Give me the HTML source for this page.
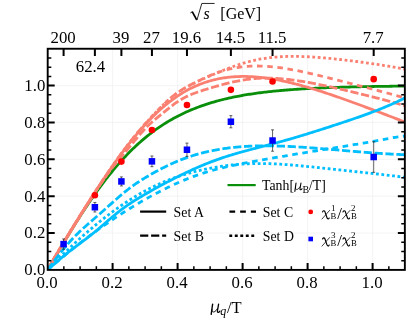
<!DOCTYPE html>
<html><head><meta charset="utf-8"><title>plot</title>
<style>
html,body{margin:0;padding:0;background:#fff;}
svg{display:block;font-family:"Liberation Serif",serif;will-change:transform;}
text{fill:#000;}
</style></head><body>
<svg width="407" height="318" viewBox="0 0 407 318">
<rect width="407" height="318" fill="#fff"/>
<defs><clipPath id="cp"><rect x="47.70" y="48.75" width="357.15" height="221.15"/></clipPath></defs>

<g stroke="#efefef" stroke-width="0.7">
<line x1="112.60" y1="48.75" x2="112.60" y2="269.90"/>
<line x1="47.70" y1="233.04" x2="404.85" y2="233.04"/>
<line x1="177.60" y1="48.75" x2="177.60" y2="269.90"/>
<line x1="47.70" y1="196.18" x2="404.85" y2="196.18"/>
<line x1="242.60" y1="48.75" x2="242.60" y2="269.90"/>
<line x1="47.70" y1="159.32" x2="404.85" y2="159.32"/>
<line x1="307.60" y1="48.75" x2="307.60" y2="269.90"/>
<line x1="47.70" y1="122.46" x2="404.85" y2="122.46"/>
<line x1="372.60" y1="48.75" x2="372.60" y2="269.90"/>
<line x1="47.70" y1="85.60" x2="404.85" y2="85.60"/>
</g>
<g clip-path="url(#cp)" fill="none" stroke-width="2.8">
<path d="M47.60,269.90 L49.10,267.36 L50.59,264.81 L52.09,262.27 L53.58,259.73 L55.08,257.20 L56.57,254.67 L58.07,252.14 L59.57,249.62 L61.06,247.11 L62.56,244.61 L64.05,242.12 L65.55,239.64 L67.05,237.17 L68.54,234.71 L70.04,232.27 L71.53,229.83 L73.03,227.42 L74.52,225.02 L76.02,222.63 L77.52,220.26 L79.01,217.91 L80.51,215.58 L82.00,213.26 L83.50,210.97 L85.00,208.69 L86.49,206.44 L87.99,204.21 L89.48,202.00 L90.98,199.81 L92.47,197.64 L93.97,195.50 L95.47,193.38 L96.96,191.29 L98.46,189.22 L99.95,187.18 L101.45,185.16 L102.95,183.16 L104.44,181.19 L105.94,179.25 L107.43,177.34 L108.93,175.45 L110.42,173.58 L111.92,171.75 L113.42,169.94 L114.91,168.16 L116.41,166.40 L117.90,164.67 L119.40,162.97 L120.89,161.29 L122.39,159.65 L123.89,158.03 L125.38,156.43 L126.88,154.87 L128.37,153.33 L129.87,151.81 L131.37,150.33 L132.86,148.87 L134.36,147.43 L135.85,146.02 L137.35,144.64 L138.84,143.29 L140.34,141.95 L141.84,140.65 L143.33,139.37 L144.83,138.11 L146.32,136.88 L147.82,135.67 L149.32,134.49 L150.81,133.33 L152.31,132.20 L153.80,131.08 L155.30,129.99 L156.79,128.93 L158.29,127.88 L159.79,126.86 L161.28,125.86 L162.78,124.88 L164.27,123.92 L165.77,122.98 L167.27,122.06 L168.76,121.17 L170.26,120.29 L171.75,119.43 L173.25,118.59 L174.74,117.77 L176.24,116.97 L177.74,116.19 L179.23,115.42 L180.73,114.67 L182.22,113.94 L183.72,113.23 L185.22,112.53 L186.71,111.85 L188.21,111.18 L189.70,110.53 L191.20,109.90 L192.69,109.28 L194.19,108.68 L195.69,108.09 L197.18,107.51 L198.68,106.95 L200.17,106.40 L201.67,105.86 L203.16,105.34 L204.66,104.83 L206.16,104.33 L207.65,103.85 L209.15,103.38 L210.64,102.91 L212.14,102.46 L213.64,102.03 L215.13,101.60 L216.63,101.18 L218.12,100.77 L219.62,100.38 L221.11,99.99 L222.61,99.61 L224.11,99.25 L225.60,98.89 L227.10,98.54 L228.59,98.20 L230.09,97.87 L231.59,97.54 L233.08,97.23 L234.58,96.92 L236.07,96.62 L237.57,96.33 L239.06,96.05 L240.56,95.77 L242.06,95.50 L243.55,95.24 L245.05,94.98 L246.54,94.73 L248.04,94.49 L249.54,94.25 L251.03,94.02 L252.53,93.80 L254.02,93.58 L255.52,93.37 L257.01,93.16 L258.51,92.96 L260.01,92.76 L261.50,92.57 L263.00,92.38 L264.49,92.20 L265.99,92.03 L267.48,91.85 L268.98,91.69 L270.48,91.52 L271.97,91.36 L273.47,91.21 L274.96,91.06 L276.46,90.91 L277.96,90.77 L279.45,90.63 L280.95,90.50 L282.44,90.36 L283.94,90.24 L285.43,90.11 L286.93,89.99 L288.43,89.87 L289.92,89.76 L291.42,89.64 L292.91,89.54 L294.41,89.43 L295.91,89.33 L297.40,89.23 L298.90,89.13 L300.39,89.03 L301.89,88.94 L303.38,88.85 L304.88,88.76 L306.38,88.68 L307.87,88.59 L309.37,88.51 L310.86,88.43 L312.36,88.36 L313.86,88.28 L315.35,88.21 L316.85,88.14 L318.34,88.07 L319.84,88.00 L321.33,87.94 L322.83,87.88 L324.33,87.81 L325.82,87.75 L327.32,87.70 L328.81,87.64 L330.31,87.58 L331.81,87.53 L333.30,87.48 L334.80,87.43 L336.29,87.38 L337.79,87.33 L339.28,87.28 L340.78,87.24 L342.28,87.19 L343.77,87.15 L345.27,87.11 L346.76,87.07 L348.26,87.03 L349.75,86.99 L351.25,86.95 L352.75,86.91 L354.24,86.88 L355.74,86.84 L357.23,86.81 L358.73,86.78 L360.23,86.74 L361.72,86.71 L363.22,86.68 L364.71,86.65 L366.21,86.63 L367.70,86.60 L369.20,86.57 L370.70,86.54 L372.19,86.52 L373.69,86.49 L375.18,86.47 L376.68,86.45 L378.18,86.42 L379.67,86.40 L381.17,86.38 L382.66,86.36 L384.16,86.34 L385.65,86.32 L387.15,86.30 L388.65,86.28 L390.14,86.26 L391.64,86.24 L393.13,86.22 L394.63,86.21 L396.13,86.19 L397.62,86.17 L399.12,86.16 L400.61,86.14 L402.11,86.13 L403.60,86.11 L405.10,86.10" stroke="#0a8f0a" stroke-width="2.8"/>
<path d="M47.60,269.89 L48.99,267.52 L50.37,265.16 L51.76,262.80 L53.14,260.44 L54.53,258.09 L55.91,255.74 L57.30,253.40 L58.68,251.07 L60.07,248.73 L61.46,246.41 L62.84,244.09 L64.23,241.78 L65.61,239.47 L67.00,237.17 L68.38,234.87 L69.77,232.58 L71.15,230.30 L72.54,228.02 L73.92,225.75 L75.31,223.49 L76.70,221.24 L78.08,218.99 L79.47,216.75 L80.85,214.51 L82.24,212.29 L83.62,210.07 L85.01,207.86 L86.39,205.66 L87.78,203.47 L89.16,201.29 L90.55,199.12 L91.94,196.95 L93.32,194.80 L94.71,192.66 L96.09,190.52 L97.48,188.40 L98.86,186.29 L100.25,184.19 L101.63,182.11 L103.02,180.03 L104.41,177.97 L105.79,175.92 L107.18,173.88 L108.56,171.86 L109.95,169.85 L111.33,167.85 L112.72,165.87 L114.10,163.90 L115.49,161.95 L116.87,160.02 L118.26,158.10 L119.65,156.20 L121.03,154.31 L122.42,152.44 L123.80,150.59 L125.19,148.76 L126.57,146.95 L127.96,145.15 L129.34,143.38 L130.73,141.63 L132.11,139.89 L133.50,138.18 L134.89,136.49 L136.27,134.82 L137.66,133.17 L139.04,131.55 L140.43,129.94 L141.81,128.36 L143.20,126.80 L144.58,125.27 L145.97,123.76 L147.36,122.27 L148.74,120.81 L150.13,119.37 L151.51,117.96 L152.90,116.57 L154.28,115.21 L155.67,113.87 L157.05,112.55 L158.44,111.27 L159.82,110.00 L161.21,108.76 L162.60,107.55 L163.98,106.36 L165.37,105.20 L166.75,104.07 L168.14,102.96 L169.52,101.87 L170.91,100.81 L172.29,99.78 L173.68,98.77 L175.06,97.79 L176.45,96.83 L177.84,95.90 L179.22,94.99 L180.61,94.11 L181.99,93.25 L183.38,92.42 L184.76,91.61 L186.15,90.83 L187.53,90.07 L188.92,89.33 L190.31,88.62 L191.69,87.93 L193.08,87.27 L194.46,86.63 L195.85,86.01 L197.23,85.41 L198.62,84.84 L200.00,84.29 L201.39,83.76 L202.77,83.25 L204.16,82.76 L205.55,82.29 L206.93,81.84 L208.32,81.41 L209.70,81.01 L211.09,80.62 L212.47,80.25 L213.86,79.90 L215.24,79.57 L216.63,79.25 L218.01,78.96 L219.40,78.68 L220.79,78.42 L222.17,78.18 L223.56,77.95 L224.94,77.75 L226.33,77.55 L227.71,77.38 L229.10,77.22 L230.48,77.08 L231.87,76.95 L233.26,76.84 L234.64,76.74 L236.03,76.66 L237.41,76.59 L238.80,76.53 L240.18,76.49 L241.57,76.47 L242.95,76.46 L244.34,76.46 L245.72,76.47 L247.11,76.50 L248.50,76.54 L249.88,76.59 L251.27,76.66 L252.65,76.73 L254.04,76.82 L255.42,76.92 L256.81,77.03 L258.19,77.16 L259.58,77.29 L260.97,77.44 L262.35,77.59 L263.74,77.76 L265.12,77.93 L266.51,78.12 L267.89,78.31 L269.28,78.52 L270.66,78.73 L272.05,78.96 L273.43,79.19 L274.82,79.43 L276.21,79.68 L277.59,79.94 L278.98,80.21 L280.36,80.48 L281.75,80.76 L283.13,81.06 L284.52,81.35 L285.90,81.66 L287.29,81.97 L288.67,82.29 L290.06,82.62 L291.45,82.95 L292.83,83.29 L294.22,83.64 L295.60,83.99 L296.99,84.35 L298.37,84.72 L299.76,85.09 L301.14,85.46 L302.53,85.85 L303.92,86.23 L305.30,86.63 L306.69,87.02 L308.07,87.43 L309.46,87.83 L310.84,88.25 L312.23,88.66 L313.61,89.09 L315.00,89.51 L316.38,89.94 L317.77,90.38 L319.16,90.81 L320.54,91.25 L321.93,91.70 L323.31,92.15 L324.70,92.60 L326.08,93.06 L327.47,93.52 L328.85,93.98 L330.24,94.44 L331.62,94.91 L333.01,95.38 L334.40,95.86 L335.78,96.34 L337.17,96.81 L338.55,97.30 L339.94,97.78 L341.32,98.27 L342.71,98.76 L344.09,99.25 L345.48,99.74 L346.87,100.23 L348.25,100.73 L349.64,101.23 L351.02,101.73 L352.41,102.23 L353.79,102.74 L355.18,103.24 L356.56,103.75 L357.95,104.26 L359.33,104.76 L360.72,105.28 L362.11,105.79 L363.49,106.30 L364.88,106.82 L366.26,107.33 L367.65,107.85 L369.03,108.36 L370.42,108.88 L371.80,109.40 L373.19,109.92 L374.57,110.44 L375.96,110.96 L377.35,111.49 L378.73,112.01 L380.12,112.53 L381.50,113.06 L382.89,113.58 L384.27,114.11 L385.66,114.64 L387.04,115.16 L388.43,115.69 L389.82,116.22 L391.20,116.75 L392.59,117.28 L393.97,117.81 L395.36,118.34 L396.74,118.87 L398.13,119.40 L399.51,119.93 L400.90,120.46 L402.28,120.99 L403.67,121.53 L405.06,122.06 L406.44,122.59" stroke="#fa8072" />
<path d="M47.60,269.90 L48.99,267.33 L50.37,264.80 L51.76,262.32 L53.14,259.88 L54.53,257.48 L55.91,255.11 L57.30,252.77 L58.68,250.46 L60.07,248.16 L61.46,245.89 L62.84,243.62 L64.23,241.37 L65.61,239.13 L67.00,236.90 L68.38,234.67 L69.77,232.45 L71.15,230.23 L72.54,228.01 L73.92,225.79 L75.31,223.58 L76.70,221.36 L78.08,219.14 L79.47,216.92 L80.85,214.70 L82.24,212.47 L83.62,210.25 L85.01,208.04 L86.39,205.82 L87.78,203.61 L89.16,201.41 L90.55,199.22 L91.94,197.03 L93.32,194.86 L94.71,192.71 L96.09,190.58 L97.48,188.47 L98.86,186.38 L100.25,184.32 L101.63,182.29 L103.02,180.28 L104.41,178.31 L105.79,176.37 L107.18,174.47 L108.56,172.60 L109.95,170.76 L111.33,168.96 L112.72,167.20 L114.10,165.47 L115.49,163.76 L116.87,162.07 L118.26,160.40 L119.65,158.74 L121.03,157.09 L122.42,155.44 L123.80,153.79 L125.19,152.14 L126.57,150.49 L127.96,148.83 L129.34,147.16 L130.73,145.49 L132.11,143.81 L133.50,142.14 L134.89,140.46 L136.27,138.79 L137.66,137.13 L139.04,135.48 L140.43,133.86 L141.81,132.27 L143.20,130.71 L144.58,129.20 L145.97,127.75 L147.36,126.34 L148.74,124.99 L150.13,123.70 L151.51,122.45 L152.90,121.25 L154.28,120.08 L155.67,118.93 L157.05,117.80 L158.44,116.67 L159.82,115.55 L161.21,114.42 L162.60,113.29 L163.98,112.16 L165.37,111.04 L166.75,109.91 L168.14,108.80 L169.52,107.69 L170.91,106.60 L172.29,105.53 L173.68,104.48 L175.06,103.47 L176.45,102.48 L177.84,101.54 L179.22,100.64 L180.61,99.79 L181.99,98.97 L183.38,98.21 L184.76,97.48 L186.15,96.79 L187.53,96.13 L188.92,95.50 L190.31,94.91 L191.69,94.33 L193.08,93.78 L194.46,93.26 L195.85,92.74 L197.23,92.25 L198.62,91.77 L200.00,91.30 L201.39,90.84 L202.77,90.39 L204.16,89.95 L205.55,89.51 L206.93,89.08 L208.32,88.66 L209.70,88.24 L211.09,87.82 L212.47,87.41 L213.86,87.00 L215.24,86.60 L216.63,86.19 L218.01,85.80 L219.40,85.41 L220.79,85.02 L222.17,84.64 L223.56,84.27 L224.94,83.90 L226.33,83.55 L227.71,83.20 L229.10,82.86 L230.48,82.53 L231.87,82.21 L233.26,81.90 L234.64,81.60 L236.03,81.31 L237.41,81.03 L238.80,80.76 L240.18,80.51 L241.57,80.26 L242.95,80.03 L244.34,79.82 L245.72,79.61 L247.11,79.42 L248.50,79.24 L249.88,79.07 L251.27,78.92 L252.65,78.78 L254.04,78.65 L255.42,78.54 L256.81,78.44 L258.19,78.36 L259.58,78.28 L260.97,78.22 L262.35,78.18 L263.74,78.14 L265.12,78.12 L266.51,78.11 L267.89,78.12 L269.28,78.13 L270.66,78.16 L272.05,78.20 L273.43,78.26 L274.82,78.32 L276.21,78.39 L277.59,78.48 L278.98,78.57 L280.36,78.68 L281.75,78.79 L283.13,78.92 L284.52,79.05 L285.90,79.19 L287.29,79.34 L288.67,79.50 L290.06,79.66 L291.45,79.84 L292.83,80.02 L294.22,80.21 L295.60,80.40 L296.99,80.60 L298.37,80.81 L299.76,81.03 L301.14,81.25 L302.53,81.47 L303.92,81.70 L305.30,81.94 L306.69,82.18 L308.07,82.43 L309.46,82.68 L310.84,82.94 L312.23,83.20 L313.61,83.46 L315.00,83.73 L316.38,84.00 L317.77,84.27 L319.16,84.55 L320.54,84.84 L321.93,85.12 L323.31,85.41 L324.70,85.70 L326.08,85.99 L327.47,86.29 L328.85,86.59 L330.24,86.89 L331.62,87.19 L333.01,87.50 L334.40,87.81 L335.78,88.12 L337.17,88.43 L338.55,88.74 L339.94,89.06 L341.32,89.38 L342.71,89.69 L344.09,90.01 L345.48,90.34 L346.87,90.66 L348.25,90.98 L349.64,91.31 L351.02,91.64 L352.41,91.97 L353.79,92.30 L355.18,92.63 L356.56,92.96 L357.95,93.30 L359.33,93.63 L360.72,93.97 L362.11,94.31 L363.49,94.65 L364.88,94.99 L366.26,95.33 L367.65,95.67 L369.03,96.02 L370.42,96.36 L371.80,96.71 L373.19,97.06 L374.57,97.42 L375.96,97.77 L377.35,98.13 L378.73,98.48 L380.12,98.84 L381.50,99.20 L382.89,99.57 L384.27,99.94 L385.66,100.30 L387.04,100.68 L388.43,101.05 L389.82,101.43 L391.20,101.81 L392.59,102.19 L393.97,102.58 L395.36,102.97 L396.74,103.36 L398.13,103.76 L399.51,104.16 L400.90,104.56 L402.28,104.97 L403.67,105.39 L405.06,105.81 L406.44,106.23" stroke="#fa8072" stroke-dasharray="8.2 2.7"/>
<path d="M47.60,269.90 L48.99,267.49 L50.37,265.08 L51.76,262.69 L53.14,260.31 L54.53,257.93 L55.91,255.57 L57.30,253.21 L58.68,250.86 L60.07,248.52 L61.46,246.18 L62.84,243.86 L64.23,241.54 L65.61,239.23 L67.00,236.93 L68.38,234.63 L69.77,232.35 L71.15,230.07 L72.54,227.80 L73.92,225.53 L75.31,223.28 L76.70,221.03 L78.08,218.79 L79.47,216.56 L80.85,214.33 L82.24,212.12 L83.62,209.91 L85.01,207.71 L86.39,205.51 L87.78,203.33 L89.16,201.16 L90.55,198.99 L91.94,196.83 L93.32,194.68 L94.71,192.54 L96.09,190.41 L97.48,188.29 L98.86,186.18 L100.25,184.08 L101.63,181.99 L103.02,179.91 L104.41,177.85 L105.79,175.79 L107.18,173.75 L108.56,171.71 L109.95,169.69 L111.33,167.68 L112.72,165.69 L114.10,163.71 L115.49,161.74 L116.87,159.79 L118.26,157.85 L119.65,155.92 L121.03,154.01 L122.42,152.12 L123.80,150.24 L125.19,148.38 L126.57,146.54 L127.96,144.72 L129.34,142.91 L130.73,141.12 L132.11,139.36 L133.50,137.61 L134.89,135.88 L136.27,134.18 L137.66,132.49 L139.04,130.83 L140.43,129.19 L141.81,127.58 L143.20,125.99 L144.58,124.42 L145.97,122.88 L147.36,121.36 L148.74,119.87 L150.13,118.39 L151.51,116.93 L152.90,115.49 L154.28,114.05 L155.67,112.62 L157.05,111.20 L158.44,109.78 L159.82,108.37 L161.21,106.97 L162.60,105.59 L163.98,104.22 L165.37,102.89 L166.75,101.58 L168.14,100.30 L169.52,99.06 L170.91,97.86 L172.29,96.69 L173.68,95.57 L175.06,94.49 L176.45,93.46 L177.84,92.46 L179.22,91.51 L180.61,90.59 L181.99,89.71 L183.38,88.86 L184.76,88.05 L186.15,87.26 L187.53,86.49 L188.92,85.74 L190.31,85.01 L191.69,84.29 L193.08,83.58 L194.46,82.88 L195.85,82.19 L197.23,81.50 L198.62,80.83 L200.00,80.15 L201.39,79.49 L202.77,78.83 L204.16,78.18 L205.55,77.54 L206.93,76.91 L208.32,76.29 L209.70,75.68 L211.09,75.09 L212.47,74.52 L213.86,73.97 L215.24,73.44 L216.63,72.92 L218.01,72.43 L219.40,71.96 L220.79,71.50 L222.17,71.07 L223.56,70.65 L224.94,70.26 L226.33,69.88 L227.71,69.52 L229.10,69.18 L230.48,68.86 L231.87,68.56 L233.26,68.28 L234.64,68.01 L236.03,67.76 L237.41,67.53 L238.80,67.32 L240.18,67.12 L241.57,66.94 L242.95,66.78 L244.34,66.63 L245.72,66.50 L247.11,66.39 L248.50,66.29 L249.88,66.21 L251.27,66.14 L252.65,66.09 L254.04,66.05 L255.42,66.03 L256.81,66.02 L258.19,66.02 L259.58,66.04 L260.97,66.07 L262.35,66.12 L263.74,66.18 L265.12,66.25 L266.51,66.33 L267.89,66.43 L269.28,66.53 L270.66,66.65 L272.05,66.78 L273.43,66.92 L274.82,67.07 L276.21,67.23 L277.59,67.40 L278.98,67.58 L280.36,67.76 L281.75,67.96 L283.13,68.17 L284.52,68.38 L285.90,68.60 L287.29,68.83 L288.67,69.06 L290.06,69.31 L291.45,69.55 L292.83,69.81 L294.22,70.07 L295.60,70.34 L296.99,70.61 L298.37,70.89 L299.76,71.17 L301.14,71.46 L302.53,71.76 L303.92,72.05 L305.30,72.35 L306.69,72.66 L308.07,72.97 L309.46,73.28 L310.84,73.60 L312.23,73.92 L313.61,74.24 L315.00,74.57 L316.38,74.90 L317.77,75.23 L319.16,75.56 L320.54,75.90 L321.93,76.24 L323.31,76.57 L324.70,76.92 L326.08,77.26 L327.47,77.60 L328.85,77.95 L330.24,78.30 L331.62,78.65 L333.01,79.00 L334.40,79.35 L335.78,79.70 L337.17,80.05 L338.55,80.40 L339.94,80.76 L341.32,81.11 L342.71,81.47 L344.09,81.82 L345.48,82.18 L346.87,82.53 L348.25,82.89 L349.64,83.25 L351.02,83.60 L352.41,83.96 L353.79,84.32 L355.18,84.68 L356.56,85.03 L357.95,85.39 L359.33,85.75 L360.72,86.11 L362.11,86.47 L363.49,86.83 L364.88,87.19 L366.26,87.54 L367.65,87.90 L369.03,88.26 L370.42,88.63 L371.80,88.99 L373.19,89.35 L374.57,89.71 L375.96,90.07 L377.35,90.44 L378.73,90.80 L380.12,91.17 L381.50,91.53 L382.89,91.90 L384.27,92.27 L385.66,92.64 L387.04,93.01 L388.43,93.39 L389.82,93.76 L391.20,94.14 L392.59,94.52 L393.97,94.90 L395.36,95.28 L396.74,95.67 L398.13,96.06 L399.51,96.45 L400.90,96.85 L402.28,97.24 L403.67,97.64 L405.06,98.05 L406.44,98.46" stroke="#fa8072" stroke-dasharray="5.6 4.6"/>
<path d="M47.60,269.90 L48.99,267.40 L50.37,264.93 L51.76,262.48 L53.14,260.05 L54.53,257.64 L55.91,255.26 L57.30,252.89 L58.68,250.54 L60.07,248.21 L61.46,245.89 L62.84,243.59 L64.23,241.29 L65.61,239.01 L67.00,236.74 L68.38,234.49 L69.77,232.23 L71.15,229.99 L72.54,227.76 L73.92,225.53 L75.31,223.31 L76.70,221.09 L78.08,218.88 L79.47,216.68 L80.85,214.48 L82.24,212.29 L83.62,210.10 L85.01,207.91 L86.39,205.73 L87.78,203.55 L89.16,201.38 L90.55,199.22 L91.94,197.05 L93.32,194.90 L94.71,192.74 L96.09,190.60 L97.48,188.46 L98.86,186.33 L100.25,184.20 L101.63,182.09 L103.02,179.98 L104.41,177.88 L105.79,175.80 L107.18,173.72 L108.56,171.66 L109.95,169.61 L111.33,167.58 L112.72,165.56 L114.10,163.56 L115.49,161.57 L116.87,159.61 L118.26,157.66 L119.65,155.74 L121.03,153.83 L122.42,151.95 L123.80,150.08 L125.19,148.24 L126.57,146.42 L127.96,144.62 L129.34,142.85 L130.73,141.09 L132.11,139.35 L133.50,137.64 L134.89,135.95 L136.27,134.27 L137.66,132.62 L139.04,130.98 L140.43,129.36 L141.81,127.76 L143.20,126.17 L144.58,124.60 L145.97,123.04 L147.36,121.50 L148.74,119.96 L150.13,118.44 L151.51,116.94 L152.90,115.44 L154.28,113.96 L155.67,112.50 L157.05,111.04 L158.44,109.61 L159.82,108.19 L161.21,106.80 L162.60,105.42 L163.98,104.08 L165.37,102.76 L166.75,101.48 L168.14,100.23 L169.52,99.01 L170.91,97.83 L172.29,96.69 L173.68,95.59 L175.06,94.52 L176.45,93.50 L177.84,92.51 L179.22,91.55 L180.61,90.64 L181.99,89.75 L183.38,88.90 L184.76,88.08 L186.15,87.28 L187.53,86.51 L188.92,85.76 L190.31,85.04 L191.69,84.33 L193.08,83.63 L194.46,82.95 L195.85,82.29 L197.23,81.63 L198.62,80.98 L200.00,80.35 L201.39,79.72 L202.77,79.09 L204.16,78.47 L205.55,77.86 L206.93,77.25 L208.32,76.64 L209.70,76.04 L211.09,75.44 L212.47,74.84 L213.86,74.25 L215.24,73.66 L216.63,73.07 L218.01,72.49 L219.40,71.91 L220.79,71.33 L222.17,70.77 L223.56,70.21 L224.94,69.65 L226.33,69.11 L227.71,68.57 L229.10,68.04 L230.48,67.52 L231.87,67.01 L233.26,66.51 L234.64,66.02 L236.03,65.54 L237.41,65.07 L238.80,64.61 L240.18,64.16 L241.57,63.73 L242.95,63.31 L244.34,62.90 L245.72,62.50 L247.11,62.11 L248.50,61.74 L249.88,61.38 L251.27,61.03 L252.65,60.70 L254.04,60.38 L255.42,60.07 L256.81,59.78 L258.19,59.50 L259.58,59.23 L260.97,58.98 L262.35,58.74 L263.74,58.51 L265.12,58.30 L266.51,58.10 L267.89,57.91 L269.28,57.73 L270.66,57.57 L272.05,57.41 L273.43,57.27 L274.82,57.14 L276.21,57.03 L277.59,56.92 L278.98,56.82 L280.36,56.73 L281.75,56.66 L283.13,56.59 L284.52,56.53 L285.90,56.49 L287.29,56.45 L288.67,56.42 L290.06,56.40 L291.45,56.38 L292.83,56.38 L294.22,56.38 L295.60,56.39 L296.99,56.40 L298.37,56.43 L299.76,56.46 L301.14,56.49 L302.53,56.54 L303.92,56.59 L305.30,56.64 L306.69,56.70 L308.07,56.77 L309.46,56.84 L310.84,56.92 L312.23,57.00 L313.61,57.09 L315.00,57.18 L316.38,57.28 L317.77,57.38 L319.16,57.49 L320.54,57.60 L321.93,57.71 L323.31,57.83 L324.70,57.95 L326.08,58.07 L327.47,58.20 L328.85,58.33 L330.24,58.47 L331.62,58.60 L333.01,58.74 L334.40,58.89 L335.78,59.03 L337.17,59.18 L338.55,59.33 L339.94,59.49 L341.32,59.64 L342.71,59.80 L344.09,59.96 L345.48,60.13 L346.87,60.29 L348.25,60.46 L349.64,60.63 L351.02,60.81 L352.41,60.98 L353.79,61.16 L355.18,61.33 L356.56,61.51 L357.95,61.70 L359.33,61.88 L360.72,62.07 L362.11,62.26 L363.49,62.45 L364.88,62.64 L366.26,62.83 L367.65,63.03 L369.03,63.23 L370.42,63.43 L371.80,63.63 L373.19,63.83 L374.57,64.04 L375.96,64.25 L377.35,64.46 L378.73,64.67 L380.12,64.89 L381.50,65.11 L382.89,65.33 L384.27,65.55 L385.66,65.78 L387.04,66.00 L388.43,66.24 L389.82,66.47 L391.20,66.71 L392.59,66.95 L393.97,67.19 L395.36,67.44 L396.74,67.69 L398.13,67.94 L399.51,68.20 L400.90,68.46 L402.28,68.73 L403.67,69.00 L405.06,69.27 L406.44,69.55" stroke="#fa8072" stroke-dasharray="2.8 2.6" stroke-dashoffset="4.3"/>
<path d="M47.60,269.90 L48.99,268.70 L50.37,267.49 L51.76,266.27 L53.14,265.06 L54.53,263.84 L55.91,262.63 L57.30,261.43 L58.68,260.24 L60.07,259.05 L61.46,257.88 L62.84,256.72 L64.23,255.57 L65.61,254.44 L67.00,253.32 L68.38,252.21 L69.77,251.12 L71.15,250.04 L72.54,248.97 L73.92,247.92 L75.31,246.87 L76.70,245.83 L78.08,244.80 L79.47,243.77 L80.85,242.74 L82.24,241.70 L83.62,240.67 L85.01,239.63 L86.39,238.57 L87.78,237.51 L89.16,236.44 L90.55,235.35 L91.94,234.25 L93.32,233.13 L94.71,232.00 L96.09,230.86 L97.48,229.70 L98.86,228.53 L100.25,227.36 L101.63,226.17 L103.02,224.97 L104.41,223.77 L105.79,222.57 L107.18,221.37 L108.56,220.17 L109.95,218.98 L111.33,217.79 L112.72,216.62 L114.10,215.47 L115.49,214.33 L116.87,213.20 L118.26,212.10 L119.65,211.01 L121.03,209.94 L122.42,208.90 L123.80,207.87 L125.19,206.87 L126.57,205.89 L127.96,204.92 L129.34,203.98 L130.73,203.06 L132.11,202.15 L133.50,201.27 L134.89,200.40 L136.27,199.54 L137.66,198.69 L139.04,197.86 L140.43,197.03 L141.81,196.21 L143.20,195.40 L144.58,194.59 L145.97,193.79 L147.36,193.00 L148.74,192.21 L150.13,191.42 L151.51,190.64 L152.90,189.86 L154.28,189.09 L155.67,188.33 L157.05,187.56 L158.44,186.81 L159.82,186.05 L161.21,185.30 L162.60,184.56 L163.98,183.82 L165.37,183.08 L166.75,182.35 L168.14,181.62 L169.52,180.90 L170.91,180.18 L172.29,179.47 L173.68,178.76 L175.06,178.06 L176.45,177.36 L177.84,176.67 L179.22,175.98 L180.61,175.29 L181.99,174.61 L183.38,173.94 L184.76,173.27 L186.15,172.61 L187.53,171.96 L188.92,171.31 L190.31,170.66 L191.69,170.03 L193.08,169.40 L194.46,168.77 L195.85,168.16 L197.23,167.55 L198.62,166.95 L200.00,166.35 L201.39,165.77 L202.77,165.19 L204.16,164.62 L205.55,164.05 L206.93,163.50 L208.32,162.95 L209.70,162.41 L211.09,161.88 L212.47,161.35 L213.86,160.84 L215.24,160.33 L216.63,159.83 L218.01,159.34 L219.40,158.85 L220.79,158.37 L222.17,157.90 L223.56,157.44 L224.94,156.98 L226.33,156.53 L227.71,156.09 L229.10,155.65 L230.48,155.22 L231.87,154.80 L233.26,154.38 L234.64,153.97 L236.03,153.57 L237.41,153.16 L238.80,152.77 L240.18,152.38 L241.57,151.99 L242.95,151.61 L244.34,151.23 L245.72,150.86 L247.11,150.49 L248.50,150.12 L249.88,149.75 L251.27,149.39 L252.65,149.02 L254.04,148.66 L255.42,148.30 L256.81,147.94 L258.19,147.59 L259.58,147.23 L260.97,146.87 L262.35,146.51 L263.74,146.15 L265.12,145.79 L266.51,145.43 L267.89,145.07 L269.28,144.71 L270.66,144.35 L272.05,143.98 L273.43,143.61 L274.82,143.24 L276.21,142.87 L277.59,142.50 L278.98,142.12 L280.36,141.75 L281.75,141.37 L283.13,140.98 L284.52,140.60 L285.90,140.21 L287.29,139.82 L288.67,139.42 L290.06,139.03 L291.45,138.63 L292.83,138.23 L294.22,137.82 L295.60,137.42 L296.99,137.01 L298.37,136.59 L299.76,136.18 L301.14,135.76 L302.53,135.34 L303.92,134.92 L305.30,134.50 L306.69,134.07 L308.07,133.64 L309.46,133.21 L310.84,132.78 L312.23,132.35 L313.61,131.91 L315.00,131.48 L316.38,131.04 L317.77,130.60 L319.16,130.16 L320.54,129.72 L321.93,129.28 L323.31,128.83 L324.70,128.39 L326.08,127.94 L327.47,127.50 L328.85,127.05 L330.24,126.60 L331.62,126.15 L333.01,125.70 L334.40,125.24 L335.78,124.79 L337.17,124.34 L338.55,123.88 L339.94,123.42 L341.32,122.96 L342.71,122.50 L344.09,122.04 L345.48,121.58 L346.87,121.11 L348.25,120.64 L349.64,120.18 L351.02,119.70 L352.41,119.23 L353.79,118.76 L355.18,118.28 L356.56,117.80 L357.95,117.32 L359.33,116.83 L360.72,116.34 L362.11,115.85 L363.49,115.35 L364.88,114.86 L366.26,114.35 L367.65,113.85 L369.03,113.34 L370.42,112.82 L371.80,112.31 L373.19,111.78 L374.57,111.25 L375.96,110.72 L377.35,110.18 L378.73,109.64 L380.12,109.09 L381.50,108.53 L382.89,107.96 L384.27,107.39 L385.66,106.82 L387.04,106.23 L388.43,105.64 L389.82,105.04 L391.20,104.43 L392.59,103.82 L393.97,103.19 L395.36,102.56 L396.74,101.91 L398.13,101.26 L399.51,100.59 L400.90,99.92 L402.28,99.23 L403.67,98.53 L405.06,97.82 L406.44,97.10" stroke="#00bfff" />
<path d="M47.60,269.90 L48.99,268.04 L50.37,266.17 L51.76,264.30 L53.14,262.43 L54.53,260.58 L55.91,258.74 L57.30,256.92 L58.68,255.11 L60.07,253.34 L61.46,251.59 L62.84,249.87 L64.23,248.18 L65.61,246.52 L67.00,244.89 L68.38,243.30 L69.77,241.75 L71.15,240.23 L72.54,238.74 L73.92,237.29 L75.31,235.87 L76.70,234.48 L78.08,233.13 L79.47,231.80 L80.85,230.49 L82.24,229.21 L83.62,227.95 L85.01,226.70 L86.39,225.47 L87.78,224.25 L89.16,223.04 L90.55,221.84 L91.94,220.64 L93.32,219.44 L94.71,218.24 L96.09,217.05 L97.48,215.85 L98.86,214.64 L100.25,213.44 L101.63,212.22 L103.02,211.00 L104.41,209.78 L105.79,208.55 L107.18,207.32 L108.56,206.08 L109.95,204.84 L111.33,203.61 L112.72,202.37 L114.10,201.14 L115.49,199.91 L116.87,198.69 L118.26,197.49 L119.65,196.29 L121.03,195.11 L122.42,193.95 L123.80,192.80 L125.19,191.68 L126.57,190.57 L127.96,189.48 L129.34,188.42 L130.73,187.37 L132.11,186.35 L133.50,185.35 L134.89,184.38 L136.27,183.42 L137.66,182.49 L139.04,181.57 L140.43,180.68 L141.81,179.80 L143.20,178.94 L144.58,178.10 L145.97,177.27 L147.36,176.46 L148.74,175.65 L150.13,174.86 L151.51,174.08 L152.90,173.30 L154.28,172.54 L155.67,171.78 L157.05,171.03 L158.44,170.28 L159.82,169.55 L161.21,168.82 L162.60,168.11 L163.98,167.40 L165.37,166.71 L166.75,166.03 L168.14,165.36 L169.52,164.70 L170.91,164.05 L172.29,163.42 L173.68,162.80 L175.06,162.20 L176.45,161.60 L177.84,161.03 L179.22,160.46 L180.61,159.91 L181.99,159.37 L183.38,158.85 L184.76,158.34 L186.15,157.84 L187.53,157.35 L188.92,156.88 L190.31,156.42 L191.69,155.97 L193.08,155.53 L194.46,155.10 L195.85,154.69 L197.23,154.29 L198.62,153.90 L200.00,153.52 L201.39,153.15 L202.77,152.80 L204.16,152.45 L205.55,152.11 L206.93,151.79 L208.32,151.48 L209.70,151.17 L211.09,150.88 L212.47,150.59 L213.86,150.32 L215.24,150.05 L216.63,149.80 L218.01,149.55 L219.40,149.32 L220.79,149.09 L222.17,148.87 L223.56,148.66 L224.94,148.46 L226.33,148.27 L227.71,148.09 L229.10,147.91 L230.48,147.74 L231.87,147.58 L233.26,147.43 L234.64,147.29 L236.03,147.15 L237.41,147.02 L238.80,146.90 L240.18,146.79 L241.57,146.68 L242.95,146.58 L244.34,146.49 L245.72,146.40 L247.11,146.32 L248.50,146.25 L249.88,146.18 L251.27,146.12 L252.65,146.07 L254.04,146.02 L255.42,145.98 L256.81,145.94 L258.19,145.91 L259.58,145.88 L260.97,145.86 L262.35,145.85 L263.74,145.84 L265.12,145.83 L266.51,145.83 L267.89,145.84 L269.28,145.85 L270.66,145.86 L272.05,145.88 L273.43,145.90 L274.82,145.93 L276.21,145.96 L277.59,146.00 L278.98,146.04 L280.36,146.08 L281.75,146.13 L283.13,146.18 L284.52,146.23 L285.90,146.29 L287.29,146.35 L288.67,146.41 L290.06,146.48 L291.45,146.55 L292.83,146.62 L294.22,146.70 L295.60,146.78 L296.99,146.86 L298.37,146.95 L299.76,147.03 L301.14,147.12 L302.53,147.21 L303.92,147.31 L305.30,147.40 L306.69,147.50 L308.07,147.60 L309.46,147.70 L310.84,147.80 L312.23,147.91 L313.61,148.01 L315.00,148.12 L316.38,148.23 L317.77,148.34 L319.16,148.45 L320.54,148.56 L321.93,148.68 L323.31,148.79 L324.70,148.91 L326.08,149.02 L327.47,149.14 L328.85,149.26 L330.24,149.37 L331.62,149.49 L333.01,149.61 L334.40,149.73 L335.78,149.85 L337.17,149.97 L338.55,150.09 L339.94,150.21 L341.32,150.33 L342.71,150.45 L344.09,150.57 L345.48,150.69 L346.87,150.81 L348.25,150.93 L349.64,151.04 L351.02,151.16 L352.41,151.28 L353.79,151.40 L355.18,151.51 L356.56,151.63 L357.95,151.74 L359.33,151.86 L360.72,151.97 L362.11,152.08 L363.49,152.19 L364.88,152.30 L366.26,152.41 L367.65,152.51 L369.03,152.62 L370.42,152.73 L371.80,152.83 L373.19,152.93 L374.57,153.03 L375.96,153.13 L377.35,153.23 L378.73,153.32 L380.12,153.41 L381.50,153.51 L382.89,153.60 L384.27,153.69 L385.66,153.77 L387.04,153.86 L388.43,153.94 L389.82,154.02 L391.20,154.10 L392.59,154.17 L393.97,154.25 L395.36,154.32 L396.74,154.39 L398.13,154.46 L399.51,154.52 L400.90,154.59 L402.28,154.65 L403.67,154.71 L405.06,154.76 L406.44,154.82" stroke="#00bfff" stroke-dasharray="8.2 2.7"/>
<path d="M47.60,269.90 L48.99,268.70 L50.37,267.50 L51.76,266.31 L53.14,265.12 L54.53,263.94 L55.91,262.76 L57.30,261.59 L58.68,260.42 L60.07,259.26 L61.46,258.11 L62.84,256.96 L64.23,255.81 L65.61,254.68 L67.00,253.54 L68.38,252.42 L69.77,251.30 L71.15,250.18 L72.54,249.07 L73.92,247.97 L75.31,246.88 L76.70,245.78 L78.08,244.70 L79.47,243.62 L80.85,242.55 L82.24,241.48 L83.62,240.42 L85.01,239.36 L86.39,238.31 L87.78,237.27 L89.16,236.23 L90.55,235.20 L91.94,234.18 L93.32,233.16 L94.71,232.14 L96.09,231.14 L97.48,230.14 L98.86,229.14 L100.25,228.15 L101.63,227.17 L103.02,226.19 L104.41,225.22 L105.79,224.26 L107.18,223.30 L108.56,222.35 L109.95,221.40 L111.33,220.46 L112.72,219.53 L114.10,218.60 L115.49,217.68 L116.87,216.76 L118.26,215.85 L119.65,214.95 L121.03,214.05 L122.42,213.16 L123.80,212.27 L125.19,211.39 L126.57,210.52 L127.96,209.65 L129.34,208.79 L130.73,207.94 L132.11,207.09 L133.50,206.25 L134.89,205.41 L136.27,204.58 L137.66,203.76 L139.04,202.94 L140.43,202.13 L141.81,201.32 L143.20,200.53 L144.58,199.73 L145.97,198.95 L147.36,198.17 L148.74,197.40 L150.13,196.63 L151.51,195.88 L152.90,195.12 L154.28,194.38 L155.67,193.64 L157.05,192.91 L158.44,192.19 L159.82,191.47 L161.21,190.76 L162.60,190.06 L163.98,189.37 L165.37,188.68 L166.75,188.00 L168.14,187.33 L169.52,186.66 L170.91,186.01 L172.29,185.36 L173.68,184.72 L175.06,184.08 L176.45,183.46 L177.84,182.84 L179.22,182.24 L180.61,181.64 L181.99,181.05 L183.38,180.46 L184.76,179.89 L186.15,179.33 L187.53,178.77 L188.92,178.22 L190.31,177.69 L191.69,177.16 L193.08,176.64 L194.46,176.13 L195.85,175.63 L197.23,175.14 L198.62,174.66 L200.00,174.19 L201.39,173.73 L202.77,173.28 L204.16,172.84 L205.55,172.41 L206.93,171.98 L208.32,171.57 L209.70,171.16 L211.09,170.77 L212.47,170.38 L213.86,170.00 L215.24,169.63 L216.63,169.26 L218.01,168.91 L219.40,168.56 L220.79,168.22 L222.17,167.89 L223.56,167.56 L224.94,167.24 L226.33,166.92 L227.71,166.61 L229.10,166.31 L230.48,166.01 L231.87,165.71 L233.26,165.42 L234.64,165.13 L236.03,164.84 L237.41,164.56 L238.80,164.29 L240.18,164.01 L241.57,163.74 L242.95,163.47 L244.34,163.20 L245.72,162.94 L247.11,162.67 L248.50,162.41 L249.88,162.15 L251.27,161.90 L252.65,161.64 L254.04,161.39 L255.42,161.13 L256.81,160.88 L258.19,160.63 L259.58,160.39 L260.97,160.14 L262.35,159.89 L263.74,159.65 L265.12,159.41 L266.51,159.16 L267.89,158.92 L269.28,158.68 L270.66,158.44 L272.05,158.20 L273.43,157.96 L274.82,157.73 L276.21,157.49 L277.59,157.25 L278.98,157.02 L280.36,156.78 L281.75,156.54 L283.13,156.31 L284.52,156.07 L285.90,155.84 L287.29,155.61 L288.67,155.37 L290.06,155.14 L291.45,154.91 L292.83,154.67 L294.22,154.44 L295.60,154.21 L296.99,153.98 L298.37,153.75 L299.76,153.52 L301.14,153.29 L302.53,153.06 L303.92,152.83 L305.30,152.60 L306.69,152.37 L308.07,152.14 L309.46,151.91 L310.84,151.68 L312.23,151.45 L313.61,151.23 L315.00,151.00 L316.38,150.77 L317.77,150.55 L319.16,150.32 L320.54,150.09 L321.93,149.87 L323.31,149.65 L324.70,149.42 L326.08,149.20 L327.47,148.97 L328.85,148.75 L330.24,148.53 L331.62,148.31 L333.01,148.08 L334.40,147.86 L335.78,147.64 L337.17,147.41 L338.55,147.19 L339.94,146.97 L341.32,146.75 L342.71,146.52 L344.09,146.30 L345.48,146.08 L346.87,145.85 L348.25,145.63 L349.64,145.40 L351.02,145.18 L352.41,144.95 L353.79,144.72 L355.18,144.49 L356.56,144.26 L357.95,144.03 L359.33,143.80 L360.72,143.56 L362.11,143.33 L363.49,143.09 L364.88,142.85 L366.26,142.61 L367.65,142.37 L369.03,142.13 L370.42,141.88 L371.80,141.63 L373.19,141.38 L374.57,141.12 L375.96,140.87 L377.35,140.61 L378.73,140.35 L380.12,140.08 L381.50,139.82 L382.89,139.55 L384.27,139.29 L385.66,139.02 L387.04,138.76 L388.43,138.50 L389.82,138.24 L391.20,137.99 L392.59,137.74 L393.97,137.50 L395.36,137.27 L396.74,137.05 L398.13,136.85 L399.51,136.65 L400.90,136.48 L402.28,136.32 L403.67,136.18 L405.06,136.06 L406.44,135.97" stroke="#00bfff" stroke-dasharray="5.6 4.6"/>
<path d="M47.60,269.90 L48.99,268.45 L50.37,267.01 L51.76,265.58 L53.14,264.17 L54.53,262.76 L55.91,261.36 L57.30,259.97 L58.68,258.59 L60.07,257.22 L61.46,255.86 L62.84,254.50 L64.23,253.16 L65.61,251.82 L67.00,250.50 L68.38,249.18 L69.77,247.87 L71.15,246.57 L72.54,245.28 L73.92,244.00 L75.31,242.72 L76.70,241.46 L78.08,240.20 L79.47,238.95 L80.85,237.71 L82.24,236.47 L83.62,235.25 L85.01,234.04 L86.39,232.83 L87.78,231.63 L89.16,230.44 L90.55,229.26 L91.94,228.09 L93.32,226.92 L94.71,225.77 L96.09,224.62 L97.48,223.49 L98.86,222.36 L100.25,221.24 L101.63,220.14 L103.02,219.04 L104.41,217.95 L105.79,216.87 L107.18,215.80 L108.56,214.74 L109.95,213.70 L111.33,212.66 L112.72,211.63 L114.10,210.62 L115.49,209.61 L116.87,208.62 L118.26,207.64 L119.65,206.67 L121.03,205.71 L122.42,204.76 L123.80,203.83 L125.19,202.90 L126.57,201.99 L127.96,201.09 L129.34,200.20 L130.73,199.32 L132.11,198.46 L133.50,197.60 L134.89,196.76 L136.27,195.93 L137.66,195.12 L139.04,194.31 L140.43,193.52 L141.81,192.74 L143.20,191.97 L144.58,191.22 L145.97,190.47 L147.36,189.74 L148.74,189.02 L150.13,188.32 L151.51,187.62 L152.90,186.94 L154.28,186.27 L155.67,185.61 L157.05,184.96 L158.44,184.33 L159.82,183.71 L161.21,183.10 L162.60,182.50 L163.98,181.91 L165.37,181.33 L166.75,180.77 L168.14,180.21 L169.52,179.67 L170.91,179.14 L172.29,178.62 L173.68,178.11 L175.06,177.61 L176.45,177.12 L177.84,176.64 L179.22,176.18 L180.61,175.72 L181.99,175.27 L183.38,174.83 L184.76,174.41 L186.15,173.99 L187.53,173.58 L188.92,173.19 L190.31,172.80 L191.69,172.42 L193.08,172.05 L194.46,171.69 L195.85,171.34 L197.23,170.99 L198.62,170.66 L200.00,170.33 L201.39,170.01 L202.77,169.71 L204.16,169.40 L205.55,169.11 L206.93,168.83 L208.32,168.55 L209.70,168.28 L211.09,168.02 L212.47,167.76 L213.86,167.52 L215.24,167.28 L216.63,167.05 L218.01,166.82 L219.40,166.60 L220.79,166.39 L222.17,166.19 L223.56,166.00 L224.94,165.81 L226.33,165.63 L227.71,165.46 L229.10,165.29 L230.48,165.13 L231.87,164.98 L233.26,164.84 L234.64,164.71 L236.03,164.58 L237.41,164.46 L238.80,164.35 L240.18,164.24 L241.57,164.15 L242.95,164.06 L244.34,163.97 L245.72,163.90 L247.11,163.83 L248.50,163.77 L249.88,163.72 L251.27,163.67 L252.65,163.63 L254.04,163.60 L255.42,163.58 L256.81,163.56 L258.19,163.55 L259.58,163.54 L260.97,163.54 L262.35,163.55 L263.74,163.57 L265.12,163.59 L266.51,163.62 L267.89,163.65 L269.28,163.69 L270.66,163.74 L272.05,163.79 L273.43,163.84 L274.82,163.90 L276.21,163.97 L277.59,164.04 L278.98,164.12 L280.36,164.20 L281.75,164.29 L283.13,164.38 L284.52,164.47 L285.90,164.57 L287.29,164.67 L288.67,164.78 L290.06,164.89 L291.45,165.00 L292.83,165.11 L294.22,165.23 L295.60,165.35 L296.99,165.48 L298.37,165.60 L299.76,165.73 L301.14,165.86 L302.53,165.99 L303.92,166.13 L305.30,166.26 L306.69,166.40 L308.07,166.54 L309.46,166.68 L310.84,166.82 L312.23,166.97 L313.61,167.11 L315.00,167.26 L316.38,167.40 L317.77,167.55 L319.16,167.70 L320.54,167.85 L321.93,168.00 L323.31,168.14 L324.70,168.29 L326.08,168.44 L327.47,168.60 L328.85,168.75 L330.24,168.90 L331.62,169.05 L333.01,169.20 L334.40,169.35 L335.78,169.50 L337.17,169.65 L338.55,169.80 L339.94,169.95 L341.32,170.10 L342.71,170.26 L344.09,170.41 L345.48,170.56 L346.87,170.71 L348.25,170.86 L349.64,171.01 L351.02,171.16 L352.41,171.31 L353.79,171.46 L355.18,171.60 L356.56,171.75 L357.95,171.90 L359.33,172.05 L360.72,172.20 L362.11,172.35 L363.49,172.50 L364.88,172.65 L366.26,172.80 L367.65,172.95 L369.03,173.10 L370.42,173.25 L371.80,173.40 L373.19,173.56 L374.57,173.71 L375.96,173.86 L377.35,174.01 L378.73,174.17 L380.12,174.33 L381.50,174.48 L382.89,174.64 L384.27,174.80 L385.66,174.96 L387.04,175.12 L388.43,175.29 L389.82,175.45 L391.20,175.62 L392.59,175.79 L393.97,175.96 L395.36,176.13 L396.74,176.31 L398.13,176.49 L399.51,176.67 L400.90,176.85 L402.28,177.04 L403.67,177.23 L405.06,177.42 L406.44,177.62" stroke="#00bfff" stroke-dasharray="2.8 2.6"/>
</g>
<g>
<path d="M63.60,238.94V249.26M62.10,238.94h3M62.10,249.26h3" stroke="#222" stroke-width="0.7" fill="none"/>
<rect x="60.35" y="240.85" width="6.5" height="6.5" fill="#0000ff"/>
<path d="M94.88,202.45V212.03M93.38,202.45h3M93.38,212.03h3" stroke="#222" stroke-width="0.7" fill="none"/>
<rect x="91.63" y="203.99" width="6.5" height="6.5" fill="#0000ff"/>
<path d="M121.40,176.92V185.95M119.90,176.92h3M119.90,185.95h3" stroke="#222" stroke-width="0.7" fill="none"/>
<rect x="118.15" y="178.19" width="6.5" height="6.5" fill="#0000ff"/>
<path d="M151.94,156.00V166.69M150.44,156.00h3M150.44,166.69h3" stroke="#222" stroke-width="0.7" fill="none"/>
<rect x="148.69" y="158.10" width="6.5" height="6.5" fill="#0000ff"/>
<path d="M186.96,143.10V156.37M185.46,143.10h3M185.46,156.37h3" stroke="#222" stroke-width="0.7" fill="none"/>
<rect x="183.71" y="146.49" width="6.5" height="6.5" fill="#0000ff"/>
<path d="M230.89,115.64V127.80M229.39,115.64h3M229.39,127.80h3" stroke="#222" stroke-width="0.7" fill="none"/>
<rect x="227.64" y="118.47" width="6.5" height="6.5" fill="#0000ff"/>
<path d="M272.55,129.83V151.21M271.05,129.83h3M271.05,151.21h3" stroke="#222" stroke-width="0.7" fill="none"/>
<rect x="269.30" y="137.27" width="6.5" height="6.5" fill="#0000ff"/>
<path d="M373.70,141.72V172.31M372.20,141.72h3M372.20,172.31h3" stroke="#222" stroke-width="0.7" fill="none"/>
<rect x="370.45" y="153.77" width="6.5" height="6.5" fill="#0000ff"/>
<circle cx="94.88" cy="195.26" r="3.3" fill="#ff0000"/>
<circle cx="121.40" cy="161.61" r="3.3" fill="#ff0000"/>
<circle cx="151.94" cy="130.02" r="3.3" fill="#ff0000"/>
<circle cx="186.96" cy="104.95" r="3.3" fill="#ff0000"/>
<circle cx="230.89" cy="89.84" r="3.3" fill="#ff0000"/>
<circle cx="272.55" cy="81.55" r="3.3" fill="#ff0000"/>
<circle cx="373.70" cy="79.15" r="3.3" fill="#ff0000"/>
</g>
<rect x="47.70" y="48.75" width="357.15" height="221.15" fill="none" stroke="#000" stroke-width="1.9"/>
<g stroke="#000" fill="none">
<path d="M112.60,269.90v-7.0 M177.60,269.90v-7.0 M242.60,269.90v-7.0 M307.60,269.90v-7.0 M372.60,269.90v-7.0 M47.70,233.04h7.0 M404.85,233.04h-7.0 M47.70,196.18h7.0 M404.85,196.18h-7.0 M47.70,159.32h7.0 M404.85,159.32h-7.0 M47.70,122.46h7.0 M404.85,122.46h-7.0 M47.70,85.60h7.0 M404.85,85.60h-7.0 M63.60,48.75v7.3 M94.88,48.75v7.3 M121.40,48.75v7.3 M151.94,48.75v7.3 M186.96,48.75v7.3 M230.89,48.75v7.3 M272.55,48.75v7.3 M373.70,48.75v7.3" stroke-width="2"/>
<path d="M63.85,269.90v-3.6 M80.10,269.90v-3.6 M96.35,269.90v-3.6 M128.85,269.90v-3.6 M145.10,269.90v-3.6 M161.35,269.90v-3.6 M193.85,269.90v-3.6 M210.10,269.90v-3.6 M226.35,269.90v-3.6 M258.85,269.90v-3.6 M275.10,269.90v-3.6 M291.35,269.90v-3.6 M323.85,269.90v-3.6 M340.10,269.90v-3.6 M356.35,269.90v-3.6 M388.85,269.90v-3.6 M47.70,260.69h3.6 M404.85,260.69h-3.6 M47.70,251.47h3.6 M404.85,251.47h-3.6 M47.70,242.25h3.6 M404.85,242.25h-3.6 M47.70,223.82h3.6 M404.85,223.82h-3.6 M47.70,214.61h3.6 M404.85,214.61h-3.6 M47.70,205.39h3.6 M404.85,205.39h-3.6 M47.70,186.96h3.6 M404.85,186.96h-3.6 M47.70,177.75h3.6 M404.85,177.75h-3.6 M47.70,168.53h3.6 M404.85,168.53h-3.6 M47.70,150.10h3.6 M404.85,150.10h-3.6 M47.70,140.89h3.6 M404.85,140.89h-3.6 M47.70,131.67h3.6 M404.85,131.67h-3.6 M47.70,113.24h3.6 M404.85,113.24h-3.6 M47.70,104.03h3.6 M404.85,104.03h-3.6 M47.70,94.81h3.6 M404.85,94.81h-3.6 M47.70,76.38h3.6 M404.85,76.38h-3.6 M47.70,67.17h3.6 M404.85,67.17h-3.6 M47.70,57.95h3.6 M404.85,57.95h-3.6" stroke-width="1.5"/>
</g>
<g font-size="16.8">
<text x="47.10" y="288.2" text-anchor="middle">0.0</text>
<text x="45.3" y="275.30" text-anchor="end">0.0</text>
<text x="112.10" y="288.2" text-anchor="middle">0.2</text>
<text x="45.3" y="238.44" text-anchor="end">0.2</text>
<text x="177.10" y="288.2" text-anchor="middle">0.4</text>
<text x="45.3" y="201.58" text-anchor="end">0.4</text>
<text x="242.10" y="288.2" text-anchor="middle">0.6</text>
<text x="45.3" y="164.72" text-anchor="end">0.6</text>
<text x="307.10" y="288.2" text-anchor="middle">0.8</text>
<text x="45.3" y="127.86" text-anchor="end">0.8</text>
<text x="372.10" y="288.2" text-anchor="middle">1.0</text>
<text x="45.3" y="91.00" text-anchor="end">1.0</text>
<text x="63.10" y="43.0" text-anchor="middle">200</text>
<text x="90.48" y="71.6" text-anchor="middle">62.4</text>
<text x="120.90" y="43.0" text-anchor="middle">39</text>
<text x="151.44" y="43.0" text-anchor="middle">27</text>
<text x="186.46" y="43.0" text-anchor="middle">19.6</text>
<text x="230.39" y="43.0" text-anchor="middle">14.5</text>
<text x="272.05" y="43.0" text-anchor="middle">11.5</text>
<text x="373.20" y="43.0" text-anchor="middle">7.7</text>
</g>
<g font-size="16">
<path d="M190.4,12.9 L192.4,11.7 M196.9,20.2 L201.8,3.45 H214.6" fill="none" stroke="#000" stroke-width="0.85" stroke-linejoin="miter"/>
<path d="M192.2,11.6 L196.7,19.9" fill="none" stroke="#000" stroke-width="1.7"/>
<text x="203.6" y="18.8" font-style="italic">s</text>
<text x="220.3" y="18.8">[GeV]</text>
<g transform="translate(210.40,312.70) scale(1.0000)" fill="none" stroke="#000" stroke-linecap="round" stroke-linejoin="round"><path d="M2.2,-8.6 L0.8,1.6" stroke-width="1.35"/><path d="M1.5,-3.2 C1.2,-0.1 4.1,0.9 6.9,-3.9" stroke-width="0.9"/><path d="M8.2,-8.6 L7.0,-1.7 C6.8,-0.1 8.2,0.3 9.5,-1.6" stroke-width="1.3"/></g>
<text x="220.2" y="314.6" font-style="italic" font-size="12">q</text>
<text x="227.0" y="312.7" font-size="16.5">/T</text>
</g>
<g stroke-width="2.2" fill="none">
<path d="M227.5,185.1H255.7" stroke="#0a8f0a"/>
<path d="M140.1,211.6H166.2" stroke="#000"/>
<path d="M140.1,235.7H166.2" stroke="#000" stroke-dasharray="8.2 2.8"/>
<path d="M229.45,211.6H256" stroke="#000" stroke-width="2.4" stroke-dasharray="5.7 5.0"/>
<path d="M229.3,235.7H254.3" stroke="#000" stroke-width="2.5" stroke-dasharray="2.9 2.6"/>
</g>
<g font-size="13.8">
<text x="173.6" y="216.5">Set A</text>
<text x="173.6" y="240.8">Set B</text>
<text x="262.8" y="216.5">Set C</text>
<text x="262.8" y="240.9">Set D</text>
<text x="262.0" y="190.1">Tanh[</text>
<g transform="translate(294.20,190.10) scale(0.8263)" fill="none" stroke="#000" stroke-linecap="round" stroke-linejoin="round"><path d="M2.2,-8.6 L0.8,1.6" stroke-width="1.35"/><path d="M1.5,-3.2 C1.2,-0.1 4.1,0.9 6.9,-3.9" stroke-width="0.9"/><path d="M8.2,-8.6 L7.0,-1.7 C6.8,-0.1 8.2,0.3 9.5,-1.6" stroke-width="1.3"/></g>
<text x="302.6" y="192.6" font-size="10">B</text>
<text x="309.0" y="190.1">/T]</text>
<g transform="translate(321.80,210.20)" fill="none" stroke="#000" stroke-linecap="round"><path d="M7.8,0.2 L0.2,8.8" stroke-width="0.75"/><path d="M0.8,1.7 C1.2,0.4 2.5,0 3.1,1.4 L5.2,7.6 C5.7,9.1 6.8,9.1 7.4,7.8" stroke-width="1.15"/></g>
<text x="331.1" y="211.00" font-size="9">1</text>
<text x="330.6" y="219.00" font-size="8.7">B</text>
<text x="337.2" y="218.60" font-size="17">/</text>
<g transform="translate(342.20,210.20)" fill="none" stroke="#000" stroke-linecap="round"><path d="M7.8,0.2 L0.2,8.8" stroke-width="0.75"/><path d="M0.8,1.7 C1.2,0.4 2.5,0 3.1,1.4 L5.2,7.6 C5.7,9.1 6.8,9.1 7.4,7.8" stroke-width="1.15"/></g>
<text x="351.1" y="211.00" font-size="9">2</text>
<text x="351.0" y="219.00" font-size="8.7">B</text>
<g transform="translate(321.80,237.30)" fill="none" stroke="#000" stroke-linecap="round"><path d="M7.8,0.2 L0.2,8.8" stroke-width="0.75"/><path d="M0.8,1.7 C1.2,0.4 2.5,0 3.1,1.4 L5.2,7.6 C5.7,9.1 6.8,9.1 7.4,7.8" stroke-width="1.15"/></g>
<text x="330.9" y="238.10" font-size="9">3</text>
<text x="330.6" y="246.10" font-size="8.7">B</text>
<text x="337.2" y="245.70" font-size="17">/</text>
<g transform="translate(342.20,237.30)" fill="none" stroke="#000" stroke-linecap="round"><path d="M7.8,0.2 L0.2,8.8" stroke-width="0.75"/><path d="M0.8,1.7 C1.2,0.4 2.5,0 3.1,1.4 L5.2,7.6 C5.7,9.1 6.8,9.1 7.4,7.8" stroke-width="1.15"/></g>
<text x="351.1" y="238.10" font-size="9">2</text>
<text x="351.0" y="246.10" font-size="8.7">B</text>
</g>
<circle cx="310.7" cy="211.9" r="2.4" fill="#ff0000"/>
<rect x="308.4" y="236.7" width="4.6" height="4.6" fill="#0000ff"/>
</svg></body></html>
